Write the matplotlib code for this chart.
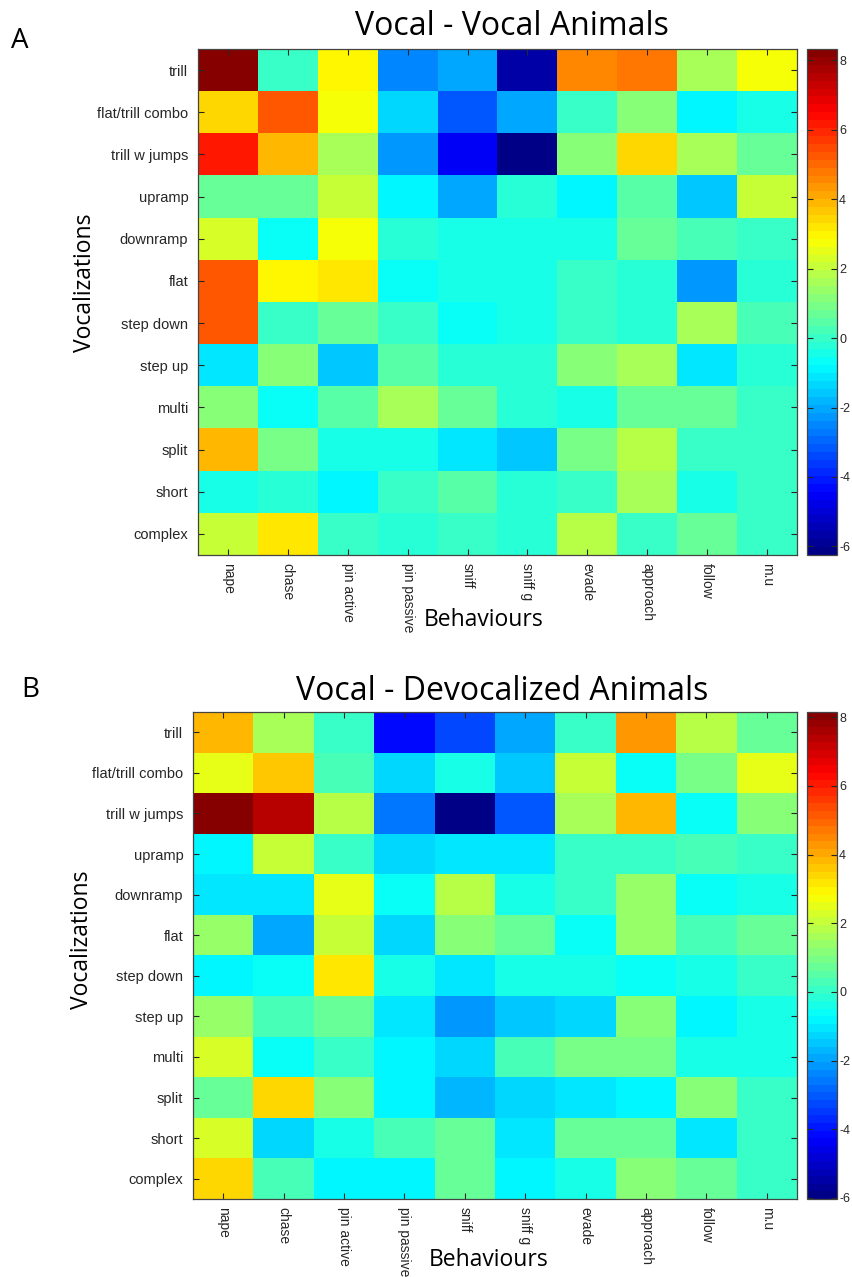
import numpy as np
import matplotlib
matplotlib.use("Agg")
import matplotlib.pyplot as plt
from matplotlib.colors import ListedColormap

plt.rcParams['axes.unicode_minus'] = False

vocalizations = ["trill", "flat/trill combo", "trill w jumps", "upramp", "downramp",
                 "flat", "step down", "step up", "multi", "split", "short", "complex"]
behaviours = ["nape", "chase", "pin active", "pin passive", "sniff", "sniff g",
              "evade", "approach", "follow", "m.u"]

# Vocal - Vocal animals (rows = vocalizations, cols = behaviours)
vocal_vocal = [
    [8.33, 0.00, 2.90, -2.56, -2.10, -5.78, 4.54, 4.72, 1.54, 2.68],
    [3.37, 5.16, 2.68, -1.40, -3.25, -2.10, 0.00, 1.08, -0.96, -0.52],
    [6.10, 3.81, 1.54, -2.34, -4.60, -6.25, 1.08, 3.37, 1.54, 0.64],
    [0.64, 0.64, 1.99, -0.96, -2.10, -0.30, -0.96, 0.39, -1.47, 1.99],
    [2.20, -0.74, 2.68, -0.30, -0.52, -0.52, -0.52, 0.64, 0.17, 0.00],
    [5.16, 2.90, 3.12, -0.74, -0.52, -0.52, 0.00, -0.30, -2.34, -0.30],
    [5.16, 0.00, 0.64, 0.00, -0.74, -0.52, 0.00, -0.30, 1.54, 0.17],
    [-1.22, 1.08, -1.47, 0.39, -0.30, -0.30, 1.08, 1.54, -1.22, -0.30],
    [1.08, -0.74, 0.39, 1.54, 0.64, -0.30, -0.52, 0.64, 0.64, 0.00],
    [3.81, 0.86, -0.52, -0.52, -1.22, -1.47, 0.86, 1.77, 0.00, 0.00],
    [-0.52, -0.30, -0.96, 0.00, 0.39, -0.30, 0.00, 1.54, -0.52, 0.00],
    [1.99, 3.12, 0.00, -0.30, 0.00, -0.30, 1.77, 0.00, 0.64, 0.00],
]

# Vocal - Devocalized animals
vocal_devocal = [
    [3.81, 1.54, 0.00, -4.10, -3.20, -1.85, 0.00, 4.25, 1.77, 0.64],
    [2.46, 3.63, 0.39, -1.17, -0.30, -1.47, 1.99, -0.52, 0.86, 2.46],
    [8.15, 7.40, 1.77, -2.52, -6.03, -2.95, 1.54, 3.81, -0.52, 1.08],
    [-0.74, 1.99, 0.00, -1.22, -0.96, -0.96, 0.00, 0.17, 0.39, 0.00],
    [-0.96, -0.96, 2.46, -0.52, 1.77, -0.30, 0.17, 1.30, -0.52, -0.30],
    [1.30, -1.85, 1.99, -1.17, 1.08, 0.64, -0.52, 1.30, 0.39, 0.64],
    [-0.74, -0.52, 3.12, -0.30, -0.96, -0.30, -0.30, -0.52, -0.30, 0.00],
    [1.30, 0.39, 0.64, -0.96, -2.08, -1.47, -1.22, 1.08, -0.74, -0.30],
    [2.20, -0.52, 0.00, -0.74, -1.22, 0.39, 0.86, 0.86, -0.30, -0.30],
    [0.64, 3.37, 1.08, -0.74, -1.75, -1.30, -0.96, -0.74, 1.08, 0.00],
    [2.20, -1.17, -0.30, 0.39, 0.64, -0.96, 0.64, 0.64, -0.96, 0.00],
    [3.37, 0.39, -0.74, -0.74, 0.64, -0.74, -0.30, 1.08, 0.64, 0.00],
]

cbar_ticks = [-6, -4, -2, 0, 2, 4, 6, 8]


def matlab_jet(n=64):
    # MATLAB style jet with n discrete levels
    t = (np.arange(n) + 0.5) / n
    r = np.clip(np.minimum(4 * t - 1.5, -4 * t + 4.5), 0, 1)
    g = np.clip(np.minimum(4 * t - 0.5, -4 * t + 3.5), 0, 1)
    b = np.clip(np.minimum(4 * t + 0.5, -4 * t + 2.5), 0, 1)
    return ListedColormap(np.column_stack([r, g, b]))


cmap = matlab_jet(64)
title_font = "Open Sans"
tick_font = "Liberation Sans"
frame_col = "#444444"
text_col = "#262626"

fig = plt.figure(figsize=(8.53, 12.77), dpi=100)
W, H = 853, 1277


def px_axes(x0, y0, x1, y1):
    return fig.add_axes([x0 / W, 1 - y1 / H, (x1 - x0) / W, (y1 - y0) / H])


def draw_panel(data, box, cbox, title, title_xy, letter_xy, letter,
               xlabel_xy, ylabel_xy):
    arr = np.array(data)
    ax = px_axes(*box)
    im = ax.imshow(arr, cmap=cmap, vmin=arr.min(), vmax=arr.max(),
                   aspect="auto", interpolation="nearest")
    ax.set_xticks(range(len(behaviours)))
    ax.set_yticks(range(len(vocalizations)))
    ax.set_xticklabels(behaviours, rotation=-90, ha="center", va="top",
                       fontsize=10, family=tick_font, color=text_col)
    ax.set_yticklabels(vocalizations, fontsize=10.5, family=tick_font,
                       color=text_col)
    ax.tick_params(direction="in", length=4, width=0.8, color=text_col,
                   top=True, right=True, pad=7)
    ax.tick_params(axis="x", pad=6)
    for s in ax.spines.values():
        s.set_color(frame_col)
        s.set_linewidth(0.9)

    cax = px_axes(*cbox)
    cb = fig.colorbar(im, cax=cax)
    cb.set_ticks(cbar_ticks)
    cb.ax.tick_params(direction="in", length=4, width=0.8, color=text_col,
                      left=True, right=True, labelsize=9, pad=1.5,
                      labelcolor=text_col)
    for lab in cb.ax.get_yticklabels():
        lab.set_family(tick_font)
    cb.outline.set_edgecolor(frame_col)
    cb.outline.set_linewidth(0.9)

    fig.text(title_xy[0] / W, 1 - title_xy[1] / H, title, ha="center",
             va="baseline", fontsize=23, family=title_font)
    fig.text(letter_xy[0] / W, 1 - letter_xy[1] / H, letter, ha="left",
             va="baseline", fontsize=20, family=title_font)
    fig.text(xlabel_xy[0] / W, 1 - xlabel_xy[1] / H, "Behaviours",
             ha="center", va="baseline", fontsize=16.5, family=title_font)
    fig.text(ylabel_xy[0] / W, 1 - ylabel_xy[1] / H, "Vocalizations",
             ha="center", va="center", rotation=90, fontsize=16.5,
             family=title_font)


draw_panel(vocal_vocal, (198, 49, 797, 555), (807, 49, 837, 555),
           "Vocal - Vocal Animals", (512, 35), (11, 48), "A",
           (484, 626), (85, 283))
draw_panel(vocal_devocal, (193, 712, 797, 1199), (807, 712, 837, 1199),
           "Vocal - Devocalized Animals", (502, 700), (21, 697), "B",
           (489, 1266), (82, 940))

fig.savefig("out.png", dpi=100)
